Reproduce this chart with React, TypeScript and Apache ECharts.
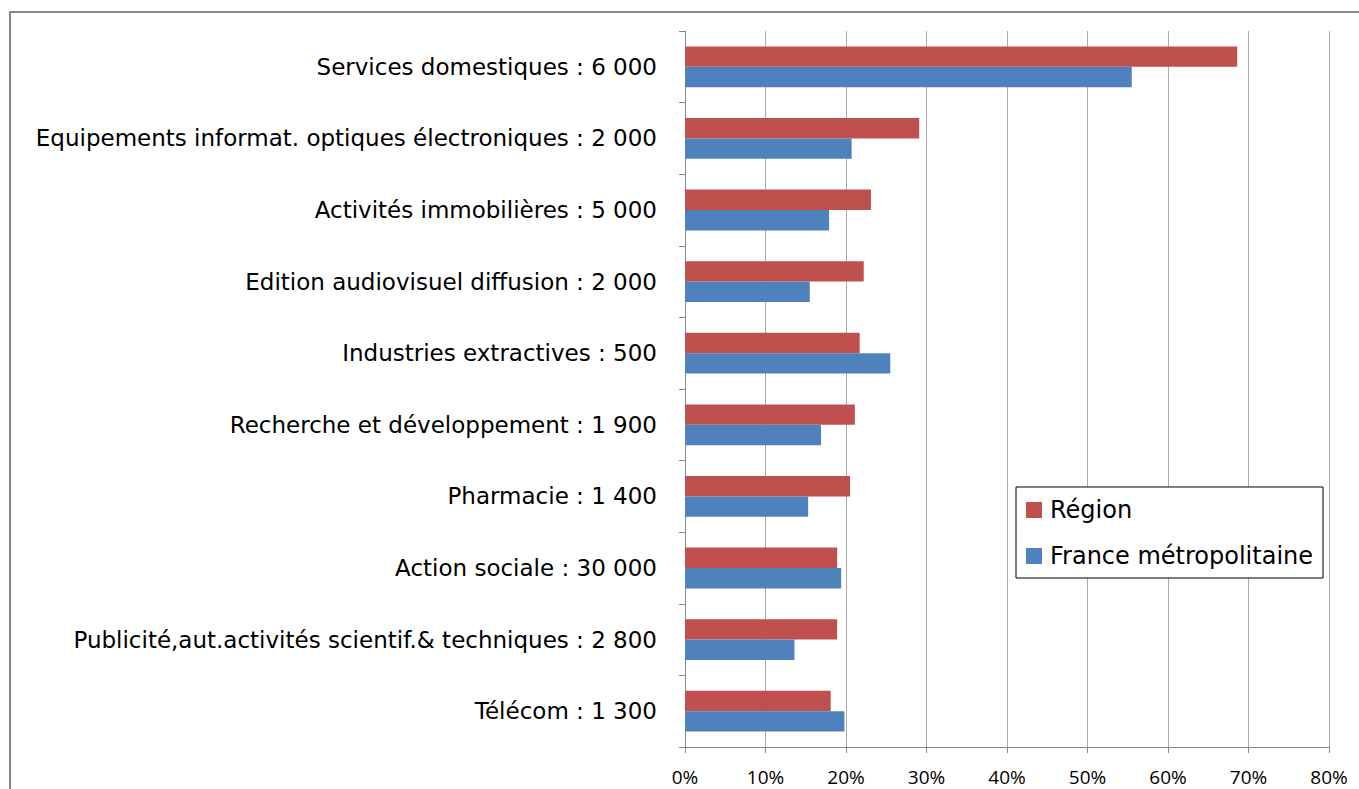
import React, { useEffect, useRef } from "react";
import * as echarts from "echarts";

const categories = [
  "Services domestiques : 6 000",
  "Equipements informat. optiques électroniques : 2 000",
  "Activités immobilières : 5 000",
  "Edition audiovisuel diffusion : 2 000",
  "Industries extractives : 500",
  "Recherche et développement : 1 900",
  "Pharmacie : 1 400",
  "Action sociale : 30 000",
  "Publicité,aut.activités scientif.& techniques : 2 800",
  "Télécom : 1 300",
];
const regionValues = [68.6, 29.1, 23.1, 22.2, 21.7, 21.1, 20.5, 18.9, 18.9, 18.1];
const franceValues = [55.5, 20.7, 17.9, 15.5, 25.5, 16.9, 15.3, 19.4, 13.6, 19.8];
const seriesNames = ["Région", "France métropolitaine"];

export default function App() {
  const ref = useRef<HTMLDivElement>(null);
  useEffect(() => {
    if (!ref.current) return;
    const chart = echarts.init(ref.current, null, { renderer: "svg" });
    const font = "'Open Sans', Lato, sans-serif";
    const wide = "'DejaVu Sans', 'Open Sans', sans-serif";
    chart.setOption({
      animation: false,
      backgroundColor: "#fff",
      textStyle: { fontFamily: font },
      graphic: [
        {
          type: "rect",
          shape: { x: 10, y: 12, width: 1400, height: 820 },
          style: { fill: "none", stroke: "#888", lineWidth: 2 },
          silent: true,
          z: -1,
        },
      ],
      legend: {
        orient: "vertical",
        left: 1016,
        top: 487,
        width: 304,
        itemWidth: 16,
        itemHeight: 16,
        itemGap: 22,
        padding: [11, 10, 10, 10],
        borderColor: "#000",
        borderWidth: 1,
        backgroundColor: "#fff",
        icon: "rect",
        textStyle: { fontSize: 24, color: "#000", fontFamily: wide, padding: [0, 0, 0, 3] },
        data: seriesNames,
      },
      grid: { left: 685, right: 30, top: 31, bottom: 42, containLabel: false },
      xAxis: {
        type: "value",
        min: 0,
        max: 80,
        interval: 10,
        axisLine: { show: true, lineStyle: { color: "#888" } },
        axisTick: { show: true, length: 6, lineStyle: { color: "#888" } },
        splitLine: { show: true, lineStyle: { color: "#aaa" } },
        axisLabel: {
          formatter: (v: number) => v + "%",
          fontSize: 19,
          color: "#000",
          margin: 20,
          fontFamily: font,
        },
      },
      yAxis: {
        type: "category",
        inverse: true,
        data: categories,
        axisLine: { show: true, lineStyle: { color: "#888" } },
        axisTick: { show: true, length: 6, lineStyle: { color: "#888" } },
        axisLabel: { fontSize: 23, color: "#000", margin: 28, fontFamily: wide },
      },
      series: [
        {
          name: seriesNames[0],
          type: "bar",
          data: regionValues,
          itemStyle: { color: "#C0504D" },
          barGap: "0%",
          barCategoryGap: "43%",
        },
        {
          name: seriesNames[1],
          type: "bar",
          data: franceValues,
          itemStyle: { color: "#4F81BD" },
          barGap: "0%",
          barCategoryGap: "43%",
        },
      ],
    });
    return () => chart.dispose();
  }, []);
  return (
    <div
      ref={ref}
      style={{ position: "fixed", left: 0, top: 0, width: 1359, height: 789 }}
    />
  );
}
